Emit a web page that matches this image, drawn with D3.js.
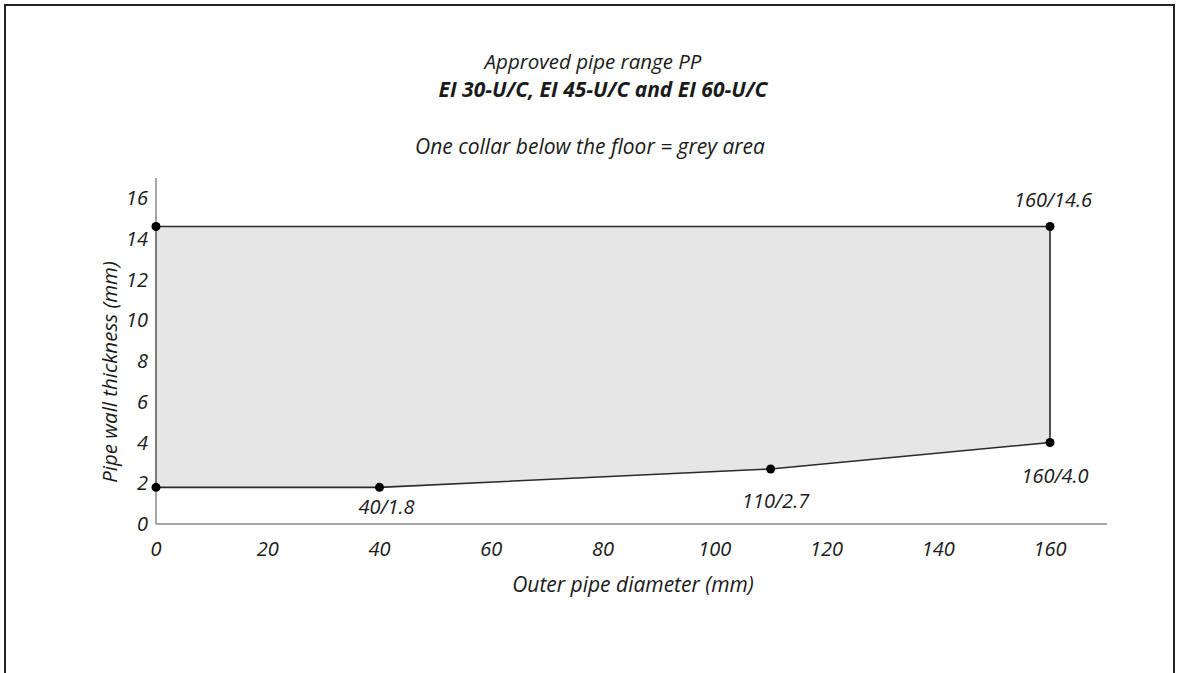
<!DOCTYPE html>
<html><head><meta charset="utf-8">
<script src="https://cdn.jsdelivr.net/npm/d3@7"></script>
<style>body{margin:0;background:#fff}text{font-family:"Open Sans","Noto Sans",sans-serif;font-style:italic;fill:#1a1a1a}</style>
</head><body>
<svg id="c" width="1179" height="673"></svg>
<script>
const diameters = [0, 40, 110, 160, 160, 0];
const thickness = [1.8, 1.8, 2.7, 4.0, 14.6, 14.6];
const pointLabels = ["", "40/1.8", "110/2.7", "160/4.0", "160/14.6", ""];
const xTicks = [0, 20, 40, 60, 80, 100, 120, 140, 160];
const yTicks = [0, 2, 4, 6, 8, 10, 12, 14, 16];

const svg = d3.select("#c");
svg.append("rect").attr("x",5).attr("y",5).attr("width",1169).attr("height",680)
  .attr("fill","none").attr("stroke","#222").attr("stroke-width",2);

const x = d3.scaleLinear().domain([0,160]).range([156,1050]);
const y = d3.scaleLinear().domain([0,16]).range([524,198]);

// polygon
const pts = diameters.map((d,i)=>[x(d), y(thickness[i])]);
svg.append("path").attr("d", d3.line()(pts)+"Z")
  .attr("fill","#e6e6e6").attr("stroke","#2a2a2a").attr("stroke-width",1.6);

// axes lines
svg.append("line").attr("x1",x(0)).attr("x2",1107).attr("y1",y(0)).attr("y2",y(0)).attr("stroke","#8a8a8a").attr("stroke-width",1.5);
svg.append("line").attr("x1",x(0)).attr("x2",x(0)).attr("y1",y(0)).attr("y2",178).attr("stroke","#8a8a8a").attr("stroke-width",1.5);

// tick labels
svg.selectAll(".xt").data(xTicks).enter().append("text")
  .attr("x",d=>x(d)).attr("y",556).attr("text-anchor","middle").attr("font-size",20).text(d=>d);
svg.selectAll(".yt").data(yTicks).enter().append("text")
  .attr("x",148).attr("y",d=>y(d)+7).attr("text-anchor","end").attr("font-size",20).text(d=>d);

// points
svg.selectAll(".pt").data(pts).enter().append("circle")
  .attr("cx",d=>d[0]).attr("cy",d=>d[1]).attr("r",4.5).attr("fill","#000");

// point labels
const off = [[0,0],[7,27],[5,39],[5,40],[3,-20],[0,0]];
svg.selectAll(".pl").data(pts).enter().append("text")
  .attr("x",(d,i)=>d[0]+off[i][0]).attr("y",(d,i)=>d[1]+off[i][1])
  .attr("text-anchor","middle").attr("font-size",20).text((d,i)=>pointLabels[i]);

// titles
svg.append("text").attr("x",593).attr("y",69).attr("text-anchor","middle").attr("font-size",20.5).text("Approved pipe range PP");
svg.append("text").attr("x",603).attr("y",97).attr("text-anchor","middle").attr("font-size",21).attr("font-weight","bold").text("EI 30-U/C, EI 45-U/C and EI 60-U/C");
svg.append("text").attr("x",590).attr("y",154).attr("text-anchor","middle").attr("font-size",21).text("One collar below the floor = grey area");
svg.append("text").attr("x",633).attr("y",592).attr("text-anchor","middle").attr("font-size",21).text("Outer pipe diameter (mm)");
svg.append("text").attr("transform","translate(117,372) rotate(-90)").attr("text-anchor","middle").attr("font-size",20.5).text("Pipe wall thickness (mm)");
</script>
</body></html>
